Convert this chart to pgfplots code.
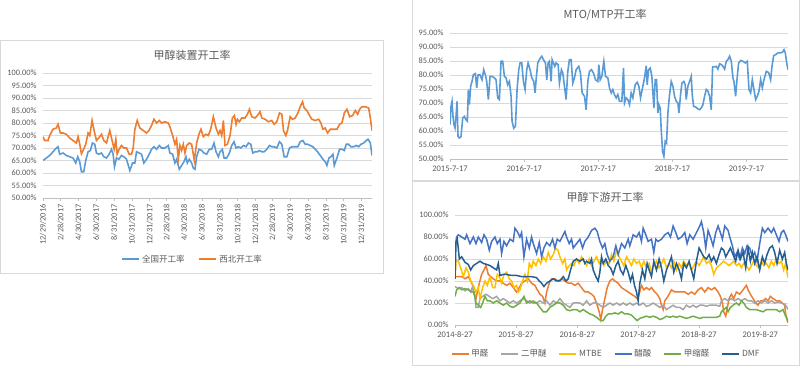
\documentclass[border=0pt]{standalone}
\usepackage{fontspec}
\setmainfont{Carlito}
\newfontfamily\cjk{Noto Sans CJK SC}
\usepackage{pgfplots}
\pgfplotsset{compat=1.18}
\definecolor{cblue}{HTML}{5B9BD5}
\definecolor{corange}{HTML}{ED7D31}
\definecolor{cgray}{HTML}{A5A5A5}
\definecolor{cgold}{HTML}{FFC000}
\definecolor{cblue2}{HTML}{4472C4}
\definecolor{cgreen}{HTML}{70AD47}
\definecolor{cdark}{HTML}{255E91}
\definecolor{txt}{HTML}{595959}
\definecolor{gridc}{HTML}{D9D9D9}
\definecolor{axc}{HTML}{BFBFBF}
\pgfplotsset{
  base/.style={
    scale only axis, anchor=south west,
    axis x line*=bottom, axis y line*=left,
    y axis line style={draw=none}, x axis line style={draw=axc, line width=0.6pt},
    ytick style={draw=none}, xtick style={draw=axc, line width=0.6pt},
    tick align=outside, major tick length=3pt,
    ymajorgrids, grid style={draw=gridc, line width=0.6pt},
    scaled y ticks=false,
    /pgf/number format/assume math mode=true,
    yticklabel={\pgfmathprintnumber[fixed,fixed zerofill,precision=2]{\tick}\%},
    tick label style={text=txt, font=\fontsize{8.3}{9}\selectfont},
    legend style={draw=none, fill=none, font=\cjk\fontsize{8.5}{10}\selectfont, text=txt, anchor=center},
    legend image code/.code={\draw[##1, line width=1.6pt] (0pt,0pt) -- (17pt,0pt);},
    legend cell align=left,
  },
}
\begin{document}
\begin{tikzpicture}
\useasboundingbox (0pt,0pt) rectangle (800pt,369pt);
% frames
\draw[gridc, line width=0.8pt] (0.5pt,96pt) rectangle (383pt,329pt);
\draw[gridc, line width=0.8pt] (412pt,189pt) rectangle (799.5pt,372pt);
\draw[gridc, line width=0.8pt] (412pt,4pt) rectangle (799.5pt,188pt);
% titles
\node[text=txt, font=\cjk\fontsize{11}{13}\selectfont] at (192pt,314pt) {甲醇装置开工率};
\node[text=txt, font=\cjk\fontsize{11}{13}\selectfont] at (605pt,354pt) {MTO/MTP开工率};
\node[text=txt, font=\cjk\fontsize{11}{13}\selectfont] at (605pt,172pt) {甲醇下游开工率};

% ---------------- left chart
\begin{axis}[base, at={(43pt,171pt)}, width=329pt, height=125pt,
  xmin=130, xmax=1115, ymin=50, ymax=100, ytick={50,55,...,100},
  xtick={130,183,236,289,343,396,449,500,553,606,660,713,766,817,870,923,977,1030,1083},
  xticklabels={12/29/2016,2/28/2017,4/30/2017,6/30/2017,8/31/2017,10/31/2017,12/31/2017,2/28/2018,4/30/2018,6/30/2018,8/31/2018,10/31/2018,12/31/2018,2/28/2019,4/30/2019,6/30/2019,8/31/2019,10/31/2019,12/31/2019},
  xticklabel style={rotate=90, anchor=east},
  legend columns=2, legend style={at={(0.455,-0.49)}, /tikz/every even column/.append style={column sep=12pt}},
]
\addplot[cblue, line width=1.6pt] coordinates {(130,65)(140,66)(150,67)(160,68.5)(170,70)(175,70.5)(180,67.5)(190,68)(200,67)(210,66.5)(220,66)(228,64)(234,66.5)(240,64.5)(245,60.5)(252,60.5)(258,65)(265,68.5)(272,69)(278,72)(285,71.5)(290,68)(297,67.5)(305,68)(312,66.5)(320,66)(328,67.5)(335,69.5)(340,67.5)(344,62.5)(350,66)(357,65.5)(365,67)(372,66.5)(380,65.5)(390,61)(398,64)(405,64)(410,68.5)(418,68)(425,67.5)(432,64)(440,65.5)(448,67.5)(455,69.5)(462,70.5)(470,69.5)(478,71)(485,70)(495,70)(505,71)(510,68)(518,67.5)(525,64)(530,65.5)(538,61.5)(545,63)(552,64.5)(558,66.5)(562,64)(568,65.5)(575,64)(580,62)(585,61.5)(590,66.5)(597,69.5)(605,69)(612,68)(620,67.5)(628,69.5)(635,69.5)(642,72)(648,68.5)(655,66.5)(660,68.5)(667,69.5)(672,66)(680,66)(688,68)(695,71)(702,72.5)(708,70)(715,70.5)(722,70)(730,71)(738,70.5)(745,72)(752,71.5)(758,68)(765,68.5)(772,68.5)(778,69)(785,68.5)(792,68.5)(800,69.5)(808,71)(815,70.5)(822,70.5)(830,70)(838,72.5)(845,71.5)(852,66.5)(860,66.5)(868,70)(875,70.5)(885,70.5)(893,70.5)(900,72.5)(908,73)(915,71.5)(922,71.5)(930,71)(938,70.5)(945,69.5)(952,68.5)(960,67)(968,65.5)(975,64.5)(980,63)(986,66)(992,66.5)(998,67.5)(1002,63)(1010,66)(1018,69.5)(1025,69.5)(1032,69)(1038,71.5)(1045,71.5)(1052,70.5)(1060,70.5)(1068,71)(1075,70.5)(1082,71.5)(1090,72)(1098,73)(1103,73.5)(1110,72)(1115,67)};
\addlegendentry{全国开工率}
\addplot[corange, line width=1.6pt] coordinates {(130,74.5)(135,73)(145,73)(150,75)(160,77.5)(170,78)(175,79.5)(182,76)(190,76)(200,75.5)(210,74)(220,73)(230,72)(235,74.5)(240,71.5)(245,67.7)(250,69)(258,71.5)(265,76)(270,75)(277,81)(283,77)(290,73)(297,74)(305,75.5)(312,73)(320,72)(330,77)(336,73.5)(343,69.5)(348,73.5)(352,67.5)(358,69.5)(365,71)(372,70)(380,70)(388,67.5)(395,67.5)(400,70)(405,77.5)(412,81)(420,78)(430,77)(440,76)(447,77)(455,79)(462,81.5)(470,80)(478,81)(485,80)(495,80.5)(505,80)(510,78.5)(518,75)(525,71.5)(530,73.5)(535,65.5)(540,71)(545,69)(550,71.5)(555,68)(560,71)(568,72)(575,71.5)(583,65)(590,72)(597,75.5)(603,77.5)(610,74.5)(617,75.5)(625,75)(632,77.5)(640,82.5)(648,78)(655,75.5)(660,77)(665,75)(670,81)(675,71)(682,71.5)(690,75)(697,82)(703,83)(708,79.5)(712,81.5)(718,80.5)(725,82)(735,82)(742,83.5)(748,85.5)(755,82.5)(765,82)(772,83)(780,84.5)(785,82)(795,81.5)(805,80.5)(815,81)(822,79.5)(830,80.5)(838,84)(845,83.5)(850,77)(857,75)(862,77)(870,82.5)(877,81.5)(885,82)(893,84)(900,86.5)(907,88.5)(912,86)(920,85)(928,83)(935,81.5)(945,81)(955,81.5)(962,80)(968,77.5)(975,78)(982,76)(990,77.5)(1000,77.5)(1010,77.5)(1018,79.5)(1025,80)(1032,84)(1040,85.5)(1048,82.5)(1057,83)(1065,85)(1072,83.5)(1078,85.5)(1085,86.5)(1095,86.5)(1105,86)(1110,82)(1115,77)};
\addlegendentry{西北开工率}
\end{axis}

% ---------------- top right chart
\begin{axis}[base, at={(450pt,210pt)}, width=338pt, height=126pt,
  xmin=152, xmax=1165, ymin=50, ymax=95, ytick={50,55,...,95},
  xtick={152,374.6,596.6,818.7,1040.8},
  xticklabels={2015-7-17,2016-7-17,2017-7-17,2018-7-17,2019-7-17},
  xticklabel style={font=\fontsize{8.5}{9}\selectfont},
]
\addplot[cblue, line width=1.6pt] coordinates {(152,62.3)(155,68.8)(158,70.6)(161,65.2)(164,62.3)(167,61.1)(170,65)(173,70.6)(176,58.1)(180,57.5)(185,58)(190,64.6)(195,65.2)(200,64)(204,63.5)(207,74.8)(210,69.4)(214,76)(218,77.7)(222,80.1)(228,80.5)(232,75.4)(236,80)(242,80)(248,78.3)(253,81.9)(258,80.1)(262,77.7)(267,71.2)(272,79.5)(278,79.5)(285,79)(290,78.3)(295,71.8)(300,71.2)(305,84.9)(310,84.9)(315,79.5)(320,79)(325,76.5)(330,77.7)(335,72.4)(338,63.5)(343,61)(348,61.7)(353,74.8)(358,81.9)(362,84.3)(367,84.3)(372,77.7)(377,74.8)(382,81.9)(386,84.3)(392,81.9)(397,79)(403,77.7)(407,73.6)(410,78.3)(415,84.3)(420,85.5)(427,86.7)(432,85.5)(438,84.3)(442,78.3)(446,84.3)(450,84.9)(455,77.7)(458,85.5)(462,84.3)(466,83.1)(470,84.3)(476,83.7)(480,77.1)(486,81.9)(490,80.7)(495,76)(500,71.2)(505,81.3)(510,85.5)(515,85.5)(520,77.1)(525,79)(530,81.9)(538,83.1)(543,80.7)(548,73.6)(555,72.4)(560,67.6)(565,77.7)(570,81.3)(576,81.9)(582,80.7)(588,78.3)(595,77.7)(598,83.7)(602,78.3)(607,79.5)(613,84.9)(618,79.5)(625,79)(630,75.4)(635,73.6)(640,74.8)(645,73)(650,71.8)(655,73)(660,70.6)(667,70.6)(672,82.5)(675,70)(680,71.8)(685,71.2)(690,69.4)(695,73.6)(700,71.8)(707,76.5)(713,77.4)(718,76)(723,71.8)(730,76)(735,79)(740,83.3)(743,76.5)(747,81.9)(752,82.5)(757,79.5)(763,68.2)(767,78.3)(771,78.3)(775,66.4)(778,69.4)(782,68.2)(785,60.5)(789,52.7)(793,51)(797,56.3)(801,55.7)(805,66.4)(810,73)(815,77.7)(820,76)(825,72.4)(830,70.6)(835,70)(838,66.4)(843,73)(847,77.1)(853,77.7)(857,76.5)(860,71.2)(865,76)(870,77.7)(875,79.5)(878,73)(882,68.8)(888,68.6)(895,67.9)(900,67.6)(905,68.2)(910,69.4)(915,72.4)(920,74.8)(925,74.2)(930,72.4)(935,67.6)(939,82.9)(945,82.9)(950,83.1)(955,82.1)(960,84)(965,83.7)(970,83.1)(975,82.1)(980,84.9)(985,85.5)(990,86.7)(995,84.9)(1000,78.9)(1003,77.7)(1008,72.4)(1013,79.5)(1017,84.3)(1023,85.2)(1030,84.9)(1037,84.3)(1043,84.9)(1048,74.8)(1053,73.6)(1058,78.3)(1063,74.8)(1068,71.2)(1073,72.4)(1078,74.2)(1083,78.3)(1088,75.4)(1093,78.3)(1100,81.3)(1107,80.9)(1113,78.3)(1117,83.1)(1122,86.9)(1128,87.3)(1135,87.9)(1142,87.9)(1148,88.1)(1153,89)(1157,87.9)(1161,84.3)(1165,81.9)};
\end{axis}

% ---------------- bottom right chart
\begin{axis}[base, at={(455pt,44pt)}, width=333pt, height=110pt,
  xmin=165, xmax=1165, ymin=0, ymax=100, ytick={0,20,...,100},
  xtick={165,348,532,715,898,1082},
  xticklabels={2014-8-27,2015-8-27,2016-8-27,2017-8-27,2018-8-27,2019-8-27},
  xticklabel style={font=\fontsize{8.5}{9}\selectfont},
  legend columns=6, legend style={at={(0.454,-0.264)}, font=\cjk\fontsize{8.5}{10}\selectfont, /tikz/every even column/.append style={column sep=10pt}},
]
\addplot[corange, line width=1.5pt] coordinates {(165,44)(175,44)(185,44)(195,42)(205,44)(212,40)(218,36)(222,28)(228,24)(232,30)(238,38)(245,46)(252,50)(258,54)(265,46)(272,44)(280,42)(290,40)(300,40)(310,38)(320,36)(330,38)(340,34)(350,30)(358,34)(365,38)(375,40)(385,42)(395,38)(405,36)(412,32)(420,28)(428,26)(435,20)(440,30)(448,38)(455,42)(465,42)(475,40)(485,42)(495,40)(505,38)(515,38)(525,36)(535,38)(545,34)(555,30)(565,30)(575,28)(582,26)(590,20)(598,12)(603,5)(608,14)(615,24)(622,34)(630,40)(638,42)(645,40)(655,38)(665,34)(675,32)(685,30)(695,28)(705,26)(712,24)(718,28)(725,36)(732,32)(740,34)(748,32)(755,34)(765,30)(772,28)(780,24)(785,18)(790,14)(795,22)(800,24)(808,28)(815,32)(825,30)(835,30)(845,30)(855,30)(865,28)(875,30)(885,28)(895,32)(905,34)(915,30)(925,34)(935,32)(945,34)(955,30)(962,26)(968,20)(972,12)(978,8)(983,16)(988,24)(995,28)(1002,24)(1010,30)(1020,28)(1030,32)(1040,36)(1045,32)(1052,28)(1060,24)(1068,20)(1075,18)(1082,22)(1090,22)(1098,24)(1105,22)(1112,26)(1120,24)(1130,22)(1140,22)(1148,20)(1155,18)(1158,10)(1162,5)(1165,2)};
\addlegendentry{甲醛}
\addplot[cgray, line width=1.5pt] coordinates {(165,35)(175,33)(185,34)(195,31)(205,33)(212,30)(218,35)(225,26)(228,16)(235,16)(240,24)(248,26)(258,28)(268,26)(278,24)(290,26)(300,22)(310,24)(320,22)(330,20)(340,22)(350,20)(360,22)(370,24)(380,22)(390,20)(400,22)(410,20)(420,22)(430,20)(440,22)(450,18)(460,22)(470,20)(480,24)(490,20)(500,18)(510,16)(520,20)(530,20)(540,20)(550,18)(560,22)(570,18)(580,20)(590,20)(600,18)(610,16)(620,18)(630,20)(640,18)(650,20)(660,18)(670,20)(680,18)(690,20)(700,18)(710,20)(720,18)(730,20)(740,17)(750,18)(760,20)(770,18)(780,16)(790,18)(800,14)(810,16)(820,18)(830,16)(840,16)(850,14)(860,18)(870,16)(880,18)(890,16)(900,18)(910,18)(920,17)(930,18)(940,18)(950,18)(960,17)(965,22)(975,24)(985,22)(995,24)(1005,22)(1015,24)(1025,22)(1035,24)(1045,22)(1055,22)(1065,20)(1075,22)(1085,20)(1095,22)(1105,20)(1115,22)(1125,20)(1135,21)(1145,20)(1155,19)(1162,16)(1165,14)};
\addlegendentry{二甲醚}
\addplot[cgold, line width=1.5pt] coordinates {(165,42)(168,58)(175,58)(182,52)(190,44)(198,52)(205,48)(212,40)(220,36)(228,30)(235,34)(240,24)(248,34)(255,40)(262,36)(270,44)(278,34)(285,34)(292,46)(298,44)(305,38)(312,46)(320,48)(328,42)(335,40)(342,34)(350,36)(355,30)(360,32)(368,40)(375,46)(382,40)(388,56)(395,52)(400,58)(408,54)(415,60)(422,56)(430,62)(438,58)(445,66)(452,60)(460,64)(467,70)(474,68)(480,62)(488,56)(495,60)(500,50)(508,54)(515,56)(522,54)(530,60)(538,56)(545,62)(552,58)(560,54)(568,60)(575,54)(582,58)(590,62)(598,56)(605,60)(612,54)(620,58)(628,56)(635,64)(642,58)(650,68)(658,62)(665,58)(672,54)(680,62)(688,58)(695,54)(702,60)(710,56)(718,58)(725,52)(732,58)(740,52)(748,56)(755,48)(762,54)(770,58)(778,52)(785,56)(792,60)(800,52)(808,56)(815,52)(822,58)(830,50)(838,56)(845,52)(852,58)(860,54)(868,56)(875,50)(882,54)(890,58)(898,54)(905,58)(912,62)(920,56)(928,58)(935,54)(942,46)(950,52)(958,54)(965,56)(972,58)(980,56)(988,54)(995,56)(1002,58)(1010,54)(1018,56)(1025,52)(1032,56)(1040,54)(1048,50)(1055,54)(1062,58)(1070,54)(1078,52)(1085,58)(1092,54)(1100,56)(1108,52)(1115,58)(1122,54)(1130,60)(1138,56)(1145,58)(1152,50)(1158,56)(1162,48)(1165,43)};
\addlegendentry{MTBE}
\addplot[cblue2, line width=1.5pt] coordinates {(165,70)(170,80)(175,82)(185,80)(195,78)(200,82)(210,74)(220,80)(228,74)(235,80)(245,75)(252,82)(260,78)(268,68)(275,76)(285,80)(292,74)(300,78)(305,65)(312,76)(320,72)(330,78)(340,76)(345,88)(352,85)(360,80)(365,84)(372,62)(380,78)(388,70)(395,80)(400,74)(410,65)(418,75)(425,62)(432,70)(440,75)(450,72)(458,78)(465,70)(472,78)(480,76)(490,82)(495,85)(500,80)(508,74)(515,78)(520,70)(530,74)(540,78)(548,70)(555,76)(565,80)(575,86)(585,88)(592,85)(600,76)(608,70)(615,74)(622,64)(630,58)(640,62)(648,72)(655,64)(665,74)(675,70)(685,78)(690,72)(700,82)(710,80)(718,84)(725,76)(730,88)(738,82)(745,76)(755,78)(762,66)(768,78)(775,76)(785,78)(795,82)(805,84)(812,80)(820,90)(828,84)(835,78)(845,80)(855,84)(862,74)(870,82)(880,78)(890,84)(900,90)(905,94)(912,84)(918,70)(925,86)(932,80)(940,72)(948,84)(955,90)(962,84)(968,78)(975,90)(985,86)(990,80)(998,72)(1005,62)(1012,66)(1020,60)(1028,70)(1035,65)(1042,72)(1050,70)(1058,62)(1065,66)(1072,58)(1080,74)(1088,88)(1095,84)(1105,88)(1115,84)(1122,88)(1130,82)(1138,76)(1145,84)(1152,86)(1158,82)(1165,76)};
\addlegendentry{醋酸}
\addplot[cgreen, line width=1.5pt] coordinates {(165,26)(170,32)(178,34)(185,32)(195,33)(205,32)(215,30)(222,30)(228,20)(235,18)(242,16)(248,20)(255,26)(262,22)(270,22)(280,20)(290,22)(300,20)(310,18)(320,20)(330,17)(340,16)(350,18)(360,20)(368,24)(372,26)(380,20)(390,22)(400,20)(410,20)(420,16)(430,12)(440,12)(450,16)(460,18)(470,20)(480,20)(490,18)(500,14)(510,13)(520,14)(530,14)(540,12)(550,14)(560,12)(570,10)(580,9)(590,7)(598,5)(603,4)(610,4)(618,8)(625,10)(635,10)(645,11)(655,10)(665,12)(675,10)(685,10)(695,9)(705,6)(712,4)(720,6)(730,7)(740,8)(750,7)(760,8)(770,7)(780,5)(790,6)(800,8)(810,7)(820,8)(830,7)(840,8)(850,7)(860,6)(870,7)(880,8)(890,7)(900,6)(910,7)(920,7)(930,7)(940,7)(950,7)(960,8)(965,12)(972,14)(980,16)(985,12)(992,16)(1000,18)(1010,20)(1018,18)(1025,22)(1032,20)(1040,16)(1050,14)(1060,14)(1070,14)(1080,13)(1090,12)(1100,14)(1110,14)(1120,14)(1130,14)(1140,12)(1150,14)(1158,8)(1162,6)(1165,3)};
\addlegendentry{甲缩醛}
\addplot[cdark, line width=1.5pt] coordinates {(165,42)(168,75)(172,78)(178,60)(185,62)(195,57)(205,55)(212,50)(220,54)(230,56)(240,58)(250,56)(260,55)(270,54)(280,52)(290,50)(295,56)(300,45)(310,46)(320,46)(335,45)(350,45)(365,44)(380,44)(395,44)(410,43)(418,40)(425,38)(432,35)(440,38)(450,40)(460,42)(470,40)(480,40)(490,44)(498,40)(505,42)(512,50)(520,58)(530,60)(540,58)(550,60)(555,56)(560,58)(570,56)(575,60)(580,50)(588,44)(595,40)(600,48)(605,62)(610,56)(618,60)(625,54)(632,52)(640,46)(648,54)(655,58)(662,50)(670,46)(678,54)(685,48)(692,40)(698,46)(704,36)(710,30)(715,22)(720,38)(728,50)(735,42)(742,56)(748,50)(755,44)(762,58)(770,50)(778,60)(785,52)(792,40)(800,50)(808,56)(815,62)(822,48)(830,56)(838,50)(845,42)(852,56)(860,52)(868,58)(875,50)(882,42)(890,58)(898,70)(905,66)(912,62)(920,60)(928,64)(935,58)(942,62)(950,56)(958,64)(965,70)(972,68)(978,62)(985,66)(992,70)(1000,64)(1008,58)(1015,68)(1022,60)(1030,66)(1038,52)(1045,70)(1052,58)(1058,66)(1065,56)(1072,62)(1080,50)(1088,62)(1095,56)(1102,64)(1110,70)(1118,72)(1125,66)(1132,56)(1140,68)(1148,60)(1155,66)(1160,56)(1165,50)};
\addlegendentry{DMF}
\end{axis}
\end{tikzpicture}
\end{document}
